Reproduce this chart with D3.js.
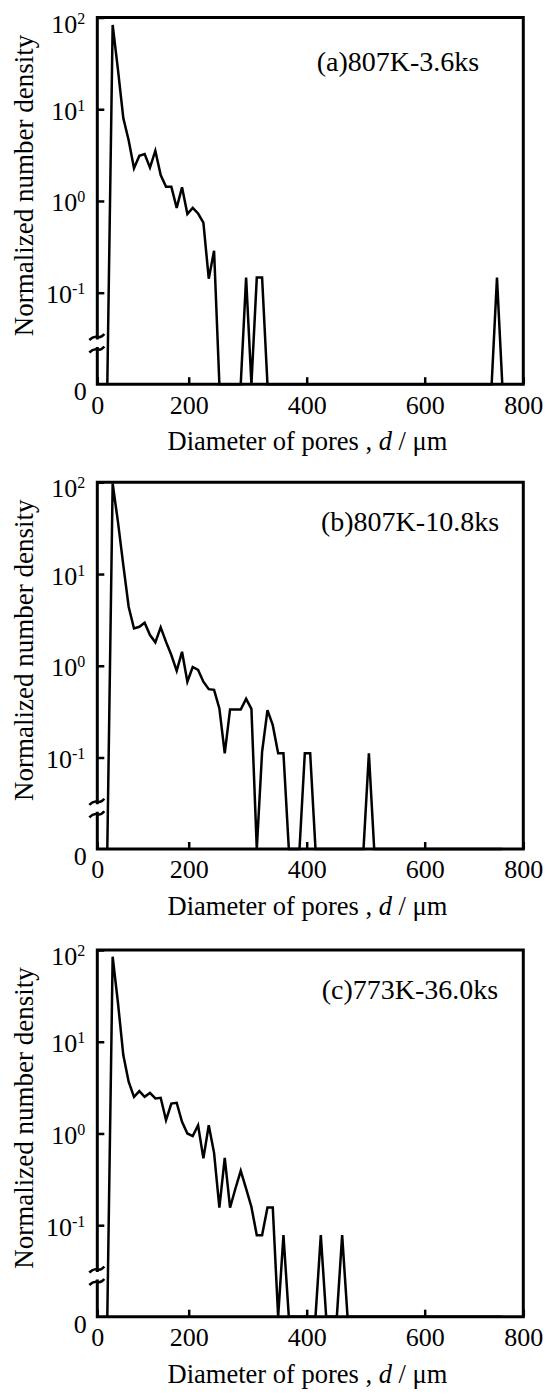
<!DOCTYPE html>
<head>
  <title>Normalized number density of pores</title>
  <style>
    body { margin: 0; background: #fff; }
    text { font-family: "Liberation Serif", "Times New Roman", serif; fill: #000; }
  </style>
</head>
<body>
  <script src="https://cdn.jsdelivr.net/npm/d3@7"></script>
  <script>
    // pore diameters (um) of the histogram bins
    var diameters = [21.9, 33.6, 45.2, 56.9, 68.6, 80.3, 92.0, 103.6, 115.3, 127.0,
      138.7, 150.4, 162.0, 173.7, 185.4, 197.1, 206.8, 215.9, 224.9, 234.0,
      243.0, 252.0, 261.1, 270.1, 279.2, 288.2, 297.3, 306.3, 315.4, 324.4,
      333.5, 342.5, 351.6, 360.6, 369.7, 378.7, 387.8, 396.8, 405.9, 414.9,
      423.9, 433.0, 442.0, 451.1, 460.1, 469.2, 478.2, 487.3, 496.3, 505.4,
      514.4, 523.5, 532.5, 541.6, 550.6, 559.7, 568.7, 577.8, 586.8, 595.9,
      605.8, 616.7, 627.5, 638.3, 649.1, 660.0, 670.8, 681.6, 692.5, 703.3,
      714.1, 724.9, 735.8, 746.6, 757.4];

    var densityA = [0, 83, 27, 8.0, 4.6, 2.27, 3.11, 3.25, 2.31, 3.53,
      1.92, 1.43, 1.43, 0.84, 1.41, 0.72, 0.84, 0.73, 0.58, 0.142,
      0.287, 0, 0, 0, 0, 0, 0.146, 0, 0.146, 0.146,
      0, 0, 0, 0, 0, 0, 0, 0, 0, 0,
      0, 0, 0, 0, 0, 0, 0, 0, 0, 0,
      0, 0, 0, 0, 0, 0, 0, 0, 0, 0,
      0, 0, 0, 0, 0, 0, 0, 0, 0, 0,
      0, 0, 0, 0.146, 0];

    var densityB = [0, 97, 37, 12.5, 4.4, 2.55, 2.66, 2.94, 2.16, 1.80,
      2.62, 1.82, 1.31, 0.88, 1.42, 0.67, 0.97, 0.90, 0.67, 0.556,
      0.547, 0.343, 0.111, 0.334, 0.334, 0.334, 0.436, 0.339, 0, 0.115,
      0.328, 0.225, 0.111, 0.111, 0, 0, 0, 0.111, 0.111, 0,
      0, 0, 0, 0, 0, 0, 0, 0, 0, 0.111,
      0, 0, 0, 0, 0, 0, 0, 0, 0, 0,
      0, 0, 0, 0, 0, 0, 0, 0, 0, 0,
      0, 0, 0, 0, 0];

    var densityC = [0, 84.5, 26.6, 7.16, 3.66, 2.51, 2.90, 2.51, 2.77, 2.41,
      2.45, 1.40, 2.12, 2.16, 1.34, 1.00, 0.935, 1.23, 0.535, 1.23,
      0.615, 0.155, 0.542, 0.155, 0.251, 0.392, 0.251, 0.158, 0.0778, 0.0778,
      0.156, 0.156, 0, 0.0778, 0, 0, 0, 0, 0, 0,
      0.0778, 0, 0, 0, 0.0778, 0, 0, 0, 0, 0,
      0, 0, 0, 0, 0, 0, 0, 0, 0, 0,
      0, 0, 0, 0, 0, 0, 0, 0, 0, 0,
      0, 0, 0, 0, 0];

    var panelLabels = ["(a)807K-3.6ks", "(b)807K-10.8ks", "(c)773K-36.0ks"];
    var xTicks = [0, 200, 400, 600, 800];
    var yTicks = [100, 10, 1, 0.1];
    var yExponents = ["2", "1", "0", "-1"];

    var W = 549, H = 1394;
    var left = 97.3, width = 426, height = 366.7;
    var tops = [17.5, 482.3, 950];
    var series = [densityA, densityB, densityC];

    var svg = d3.select("body").append("svg")
        .attr("width", W)
        .attr("height", H);

    // x axis in the original is not uniform: 0 and 800 sit on the frame edges
    var x = d3.scaleLinear().domain([0, 200, 600, 800]).range([0, 91.4, 327.4, 426]);
    var yLog = d3.scaleLog().domain([0.1, 100]).range([275.2, 0]);
    function yPos(v) { return v > 0 ? yLog(v) : height; }

    var breakTop = 320.5, breakBottom = 331;

    series.forEach(function (values, p) {
      var g = svg.append("g").attr("transform", "translate(" + left + "," + tops[p] + ")");
      var pts = diameters.map(function (d, i) { return [d, values[i]]; });

      // data line
      g.append("path")
          .datum(pts)
          .attr("fill", "none")
          .attr("stroke", "#000")
          .attr("stroke-width", 2.5)
          .attr("d", d3.line().x(function (d) { return x(d[0]); }).y(function (d) { return yPos(d[1]); }));

      // ticks pointing inward
      var ya = g.append("g").call(d3.axisLeft(yLog).tickValues(yTicks).tickSize(-7).tickFormat(""));
      ya.select(".domain").remove();
      ya.selectAll("line").attr("stroke-width", 2.5);

      var xa = g.append("g").attr("transform", "translate(0," + height + ")")
          .call(d3.axisBottom(x).tickValues(xTicks).tickSize(-7).tickPadding(11)
            .tickFormat(function (d) { return d; }));
      xa.select(".domain").remove();
      xa.selectAll("line").attr("stroke-width", 2.5);
      xa.selectAll("text").style("font-size", "26px")
          .style("font-family", "'Liberation Serif', serif");

      // frame, with a gap on the left side for the axis break
      var frame = "M0," + breakTop + "V0H" + width + "V" + height + "H0V" + breakBottom;
      g.append("path").attr("d", frame).attr("fill", "none")
          .attr("stroke", "#000").attr("stroke-width", 3).attr("stroke-linecap", "square");
      [breakTop - 1, breakBottom + 1].forEach(function (by) {
        g.append("path")
            .attr("d", "M-8," + (by + 3) + "Q-4," + (by - 1) + " 0," + by + "T7," + (by - 3))
            .attr("fill", "none").attr("stroke", "#000").attr("stroke-width", 2.5);
      });

      // y tick labels with powers of ten
      yTicks.forEach(function (v, i) {
        var t = g.append("text")
            .attr("x", -12)
            .attr("y", yLog(v) + (i === 0 ? 15 : 10.5))
            .attr("text-anchor", "end")
            .style("font-size", "26px");
        t.append("tspan").text("10");
        t.append("tspan").attr("dy", -9).style("font-size", "16px").text(yExponents[i]);
      });
      g.append("text")
          .attr("x", -10.5)
          .attr("y", height + 16)
          .attr("text-anchor", "end")
          .style("font-size", "26px")
          .text("0");

      // axis titles
      g.append("text")
          .attr("transform", "translate(" + (32.5 - left) + "," + 168 + ") rotate(-90)")
          .attr("text-anchor", "middle")
          .style("font-size", "27px")
          .text("Normalized number density");

      var xt = g.append("text")
          .attr("x", 307.5 - left)
          .attr("y", height + 66)
          .attr("text-anchor", "middle")
          .style("font-size", "26.5px");
      xt.append("tspan").text("Diameter of pores , ");
      xt.append("tspan").style("font-style", "italic").text("d");
      xt.append("tspan").text(" / \u03bcm");

      g.append("text")
          .attr("x", [398, 410, 410][p] - left)
          .attr("y", [53, 49, 49][p])
          .attr("text-anchor", "middle")
          .style("font-size", "28px")
          .text(panelLabels[p]);
    });
  </script>
</body>
